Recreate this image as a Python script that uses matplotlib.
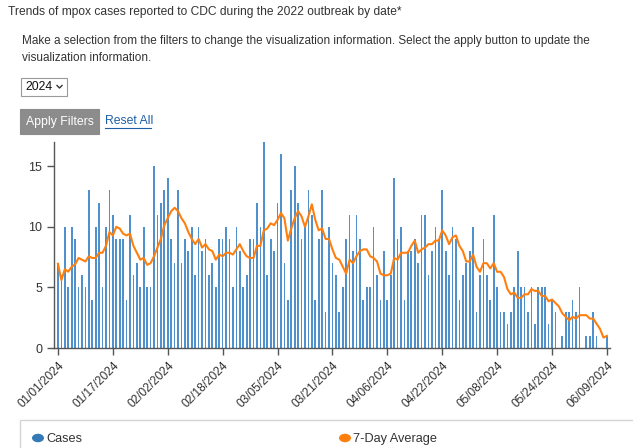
import numpy as np
import pandas as pd
import matplotlib
matplotlib.use("Agg")
import matplotlib.pyplot as plt
import matplotlib.dates as mdates
from matplotlib.patches import Rectangle, Circle
from matplotlib.lines import Line2D

# daily cases, 01/01/2024 .. 06/09/2024
start_date = "2024-01-01"
cases = [
    7, 6, 10, 5, 10, 9, 5, 6, 5, 13, 4, 10, 12, 5, 10, 13, 11, 9, 9, 9,
    4, 11, 6, 7, 5, 10, 5, 5, 15, 11, 12, 13, 14, 9, 7, 13, 7, 9, 8, 10,
    6, 10, 8, 9, 6, 7, 5, 9, 9, 10, 9, 5, 10, 8, 5, 6, 9, 9, 12, 10,
    17, 6, 9, 8, 12, 16, 7, 4, 13, 15, 12, 9, 10, 13, 11, 4, 9, 13, 3, 10,
    7, 6, 3, 5, 9, 11, 8, 11, 9, 4, 5, 5, 10, 6, 4, 8, 4, 6, 14, 9,
    10, 4, 8, 8, 9, 7, 11, 11, 6, 8, 10, 9, 13, 8, 6, 10, 9, 4, 6, 7,
    8, 10, 3, 6, 9, 6, 4, 11, 5, 3, 3, 2, 3, 5, 8, 5, 5, 3, 5, 2,
    5, 5, 5, 2, 4, 3, 0, 1, 3, 3, 4, 3, 5, 0, 1, 1, 3, 1, 0, 0,
    1,
]
avg_7day = [
    6.95, 5.60, 6.50, 6.30, 6.70, 6.90, 7.43, 7.29, 7.14, 7.57,
    7.43, 7.43, 7.86, 7.86, 8.43, 9.57, 9.29, 10.00, 9.86, 9.43,
    9.29, 9.43, 8.43, 7.86, 7.29, 7.43, 6.86, 7.00, 7.57, 8.29,
    9.00, 10.14, 10.71, 11.29, 11.57, 11.29, 10.71, 10.29, 9.57, 9.00,
    8.57, 9.00, 8.29, 8.57, 8.14, 8.00, 7.29, 7.71, 7.57, 7.86,
    7.86, 7.71, 8.14, 8.57, 8.00, 7.57, 7.43, 7.43, 8.43, 8.43,
    9.71, 9.86, 10.29, 10.14, 10.57, 11.14, 10.71, 8.86, 9.86, 10.71,
    11.29, 10.86, 10.00, 10.86, 11.86, 10.57, 9.71, 9.86, 9.00, 9.00,
    8.14, 7.43, 7.29, 6.71, 6.14, 7.29, 7.00, 7.57, 8.00, 8.14,
    8.14, 7.57, 7.43, 7.14, 6.14, 6.00, 6.00, 6.14, 7.43, 7.29,
    7.86, 7.86, 7.86, 8.43, 8.86, 7.86, 8.14, 8.29, 8.57, 8.57,
    8.86, 8.86, 9.71, 9.29, 8.57, 9.14, 9.29, 8.43, 8.00, 7.14,
    7.14, 7.71, 6.71, 6.29, 7.00, 7.00, 6.57, 7.00, 6.29, 6.29,
    5.86, 4.86, 4.43, 4.57, 4.14, 4.14, 4.43, 4.43, 4.86, 4.71,
    4.71, 4.29, 4.29, 3.86, 4.00, 3.71, 3.43, 2.86, 2.57, 2.29,
    2.57, 2.43, 2.71, 2.71, 2.71, 2.43, 2.43, 2.00, 1.57, 0.86,
    1.00,
]
tick_labels = ["01/01/2024", "01/17/2024", "02/02/2024", "02/18/2024",
               "03/05/2024", "03/21/2024", "04/06/2024", "04/22/2024",
               "05/08/2024", "05/24/2024", "06/09/2024"]
y_ticks = [0, 5, 10, 15]
legend_labels = ["Cases", "7-Day Average"]

title_text = "Trends of mpox cases reported to CDC during the 2022 outbreak by date*"
intro_lines = ["Make a selection from the filters to change the visualization information. Select the apply button to update the",
               "visualization information."]
year_choice = "2024"

BAR_COLOR = "#5090cc"
LINE_COLOR = "#ff7f0e"
TEXT = "#333333"

plt.rcParams["font.family"] = ["Liberation Sans", "DejaVu Sans"]

W, H = 633, 448
fig = plt.figure(figsize=(W / 100, H / 100), dpi=100)


def fx(x):
    return x / W


def fy(y):
    return 1 - y / H


# header / filter widgets
fig.text(fx(8), fy(12), title_text, fontsize=8.65, color=TEXT, va="center", ha="left")
fig.text(fx(22), fy(41), intro_lines[0], fontsize=8.5, color=TEXT, va="center", ha="left")
fig.text(fx(22), fy(58), intro_lines[1], fontsize=8.5, color=TEXT, va="center", ha="left")

fig.patches.append(Rectangle((fx(21), fy(96)), fx(46), 18 / H, transform=fig.transFigure,
                             facecolor="white", edgecolor="#9a9a9a", lw=0.8))
fig.text(fx(25), fy(87), year_choice, fontsize=8.8, color="#111111", va="center", ha="left")
fig.lines.append(Line2D([fx(57), fx(59.5), fx(62)], [fy(85.5), fy(88), fy(85.5)],
                        transform=fig.transFigure, color="#333333", lw=1.0))

fig.patches.append(Rectangle((fx(20), fy(134)), fx(79), 25 / H, transform=fig.transFigure,
                             facecolor="#8c8c8c", edgecolor="#8c8c8c", lw=0.8))
fig.text(fx(59.5), fy(122), "Apply Filters", fontsize=8.8, color="white", va="center", ha="center")
fig.text(fx(105), fy(121), "Reset All", fontsize=8.8, color="#1f5fa8", va="center", ha="left")
fig.lines.append(Line2D([fx(105), fx(151)], [fy(128), fy(128)], transform=fig.transFigure,
                        color="#1f5fa8", lw=0.8))

# chart
dates = pd.date_range(start_date, periods=len(cases), freq="D")
x = mdates.date2num(dates)

ax = fig.add_axes([fx(54), fy(348), fx(610) - fx(54), (348 - 142) / H])
ax.bar(x, cases, width=0.5, color=BAR_COLOR, zorder=2)
ax.plot(x, avg_7day, color=LINE_COLOR, lw=1.5, zorder=3)

ax.set_xlim(x[0] - 1.15, x[-1] + 0.9)
ax.set_ylim(0, 17)
ax.set_yticks(y_ticks)
ax.set_yticklabels([str(v) for v in y_ticks])
tick_pos = mdates.date2num(pd.to_datetime(tick_labels, format="%m/%d/%Y"))
ax.set_xticks(tick_pos)
ax.set_xticklabels(tick_labels, rotation=45, ha="right", va="top", rotation_mode="anchor")

for side in ["top", "right"]:
    ax.spines[side].set_visible(False)
for side in ["left", "bottom"]:
    ax.spines[side].set_color("#555555")
    ax.spines[side].set_linewidth(1.0)
ax.tick_params(axis="both", colors="#555555", length=5, width=1.0, labelcolor=TEXT, labelsize=9)
ax.tick_params(axis="x", labelsize=8.6, pad=3)

# legend box
fig.patches.append(Rectangle((fx(20), fy(460)), fx(640), 40 / H, transform=fig.transFigure,
                             facecolor="white", edgecolor="#d4d4d4", lw=1.0))
fig.patches.append(Circle((fx(38), fy(438)), 6 / W, transform=fig.transFigure,
                          facecolor="#337ab7", edgecolor="none"))
fig.text(fx(46), fy(439), legend_labels[0], fontsize=9.2, color=TEXT, va="center", ha="left")
fig.patches.append(Circle((fx(345), fy(438)), 6 / W, transform=fig.transFigure,
                          facecolor=LINE_COLOR, edgecolor="none"))
fig.text(fx(353), fy(439), legend_labels[1], fontsize=9.2, color=TEXT, va="center", ha="left")

fig.savefig("out.png", dpi=100)
